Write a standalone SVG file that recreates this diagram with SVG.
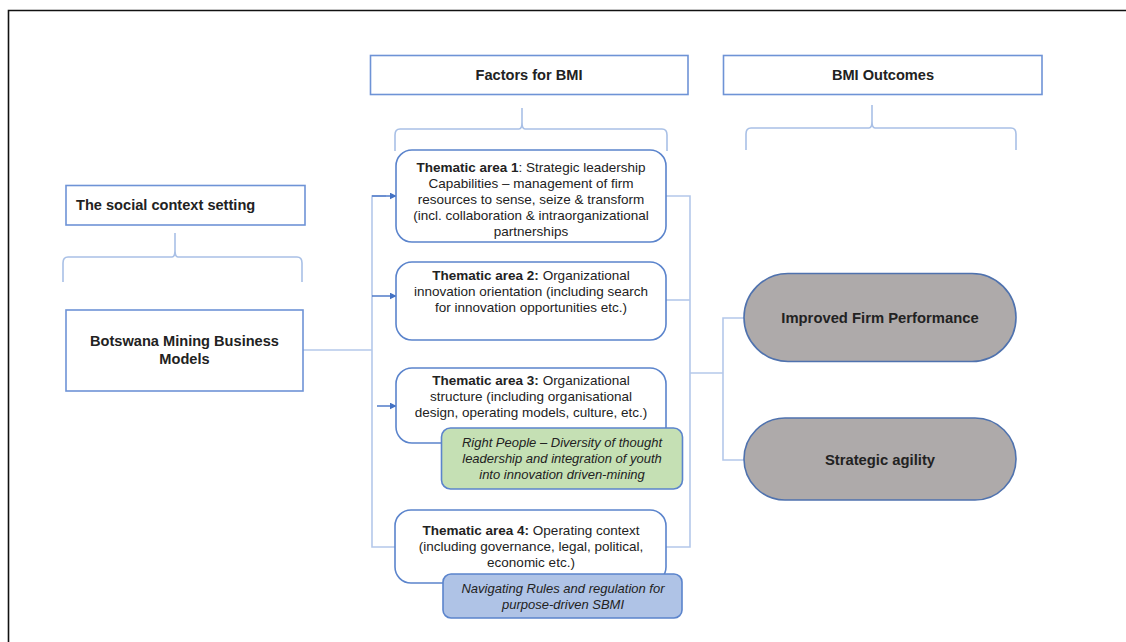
<svg xmlns="http://www.w3.org/2000/svg" width="1126" height="642" viewBox="0 0 1126 642">
  <style>
    text { font-family: "Liberation Sans", Arial, sans-serif; fill: #222; }
    .h { font-size: 14.6px; font-weight: bold; }
    .p { font-size: 14.8px; font-weight: bold; text-anchor: middle; }
    .t { font-size: 13.5px; text-anchor: middle; }
    .b { font-weight: bold; }
    .i { font-style: italic; font-size: 13px; }
    .box { fill: #fff; stroke: #6E93D6; stroke-width: 1.6; }
    .rbox { fill: #fff; stroke: #5B84CC; stroke-width: 1.6; }
    .brace { fill: none; stroke: #A9C0E6; stroke-width: 1.6; }
    .conn { fill: none; stroke: #B4C8EA; stroke-width: 1.6; }
    .arr { fill: none; stroke: #4472C4; stroke-width: 1.4; marker-end: url(#ah); }
    .pill { fill: #AEAAAA; stroke: #4F72AE; stroke-width: 1.6; }
  </style>
  <defs>
    <marker id="ah" viewBox="0 0 10 10" refX="9" refY="5" markerWidth="5" markerHeight="5" orient="auto">
      <path d="M0,0 L10,5 L0,10 z" fill="#4472C4"/>
    </marker>
  </defs>

  <rect width="1126" height="642" fill="#fff"/>
  <!-- frame -->
  <path d="M8.5,642 V10.5 H1126" fill="none" stroke="#111" stroke-width="1.6"/>

  <!-- connectors -->
  <g id="connectors">
    <path class="conn" d="M303,350 H372"/>
    <path class="conn" d="M386,196 H372 V547 H395"/>
    <path class="arr" d="M372,196 H396"/>
    <path class="arr" d="M372,296 H396"/>
    <path class="arr" d="M377,406 H396"/>
    <path class="conn" d="M666,196 H690 V547 H666"/>
    <path class="conn" d="M666,300 H690"/>
    <path class="conn" d="M690,373 H723"/>
    <path class="conn" d="M745,318 H723 V460 H745"/>
  </g>

  <!-- braces -->
  <g id="braces">
    <path class="brace" d="M175,233 V250 Q175,257 172,257 H68 Q63,257 63,263 V282 M175,250 Q175,257 178,257 H297 Q302,257 302,263 V282"/>
    <path class="brace" d="M522,108 V122 Q522,129 519,129 H400 Q395,129 395,135 V151 M522,122 Q522,129 525,129 H662 Q667,129 667,135 V151"/>
    <path class="brace" d="M872,105 V121 Q872,128 869,128 H751 Q746,128 746,134 V150 M872,121 Q872,128 875,128 H1011 Q1016,128 1016,134 V150"/>
  </g>

  <g id="social-context">
    <rect class="box" x="66" y="185.5" width="239" height="39.5"/>
    <text class="h" x="76" y="210">The social context setting</text>
  </g>

  <g id="botswana">
    <rect class="box" x="66" y="310" width="237" height="81"/>
    <text class="h" x="184.5" y="346" text-anchor="middle">Botswana Mining Business</text>
    <text class="h" x="184.5" y="364" text-anchor="middle">Models</text>
  </g>

  <g id="factors-header">
    <rect class="box" x="370.5" y="55.5" width="317.5" height="39"/>
    <text class="h" x="529" y="80" text-anchor="middle">Factors for BMI</text>
  </g>

  <g id="outcomes-header">
    <rect class="box" x="723.5" y="55.5" width="318.5" height="39"/>
    <text class="h" x="883" y="80" text-anchor="middle">BMI Outcomes</text>
  </g>

  <g id="thematic-1">
    <rect class="rbox" x="396" y="150" width="270" height="92" rx="16"/>
    <text class="t" x="531" y="172"><tspan class="b">Thematic area 1</tspan>: Strategic leadership</text>
    <text class="t" x="531" y="188">Capabilities – management  of firm</text>
    <text class="t" x="531" y="204">resources to sense, seize &amp; transform</text>
    <text class="t" x="531" y="220">(incl. collaboration &amp; intraorganizational</text>
    <text class="t" x="531" y="236">partnerships</text>
  </g>

  <g id="thematic-2">
    <rect class="rbox" x="396" y="262" width="270" height="78" rx="16"/>
    <text class="t" x="531" y="280"><tspan class="b">Thematic area 2:</tspan> Organizational</text>
    <text class="t" x="531" y="296">innovation  orientation (including  search</text>
    <text class="t" x="531" y="312">for innovation opportunities etc.)</text>
  </g>

  <g id="thematic-3">
    <rect class="rbox" x="396" y="368" width="270" height="75" rx="16"/>
    <text class="t" x="531" y="385"><tspan class="b">Thematic area 3:</tspan> Organizational</text>
    <text class="t" x="531" y="401">structure (including  organisational</text>
    <text class="t" x="531" y="417">design, operating models, culture, etc.)</text>
  </g>

  <g id="right-people">
    <rect x="441.5" y="428" width="241" height="61" rx="9" fill="#C5E0B4" stroke="#5B84CC" stroke-width="1.6"/>
    <text class="t i" x="562" y="447">Right People – Diversity of thought</text>
    <text class="t i" x="562" y="463">leadership and integration of youth</text>
    <text class="t i" x="562" y="479">into innovation driven-mining</text>
  </g>

  <g id="thematic-4">
    <rect class="rbox" x="395" y="510" width="271" height="73" rx="16"/>
    <text class="t" x="531" y="535"><tspan class="b">Thematic area 4:</tspan> Operating context</text>
    <text class="t" x="531" y="551">(including  governance, legal, political,</text>
    <text class="t" x="531" y="567">economic  etc.)</text>
  </g>

  <g id="rules">
    <rect x="443" y="574" width="239" height="44" rx="8" fill="#AFC3E6" stroke="#5B84CC" stroke-width="1.6"/>
    <text class="t i" x="563" y="593">Navigating Rules and regulation for</text>
    <text class="t i" x="563" y="609">purpose-driven  SBMI</text>
  </g>

  <g id="firm-performance">
    <rect class="pill" x="744" y="273.5" width="272" height="88" rx="44"/>
    <text class="p" x="880" y="323">Improved Firm Performance</text>
  </g>

  <g id="strategic-agility">
    <rect class="pill" x="744" y="418" width="272" height="82" rx="41"/>
    <text class="p" x="880" y="465">Strategic agility</text>
  </g>
</svg>
